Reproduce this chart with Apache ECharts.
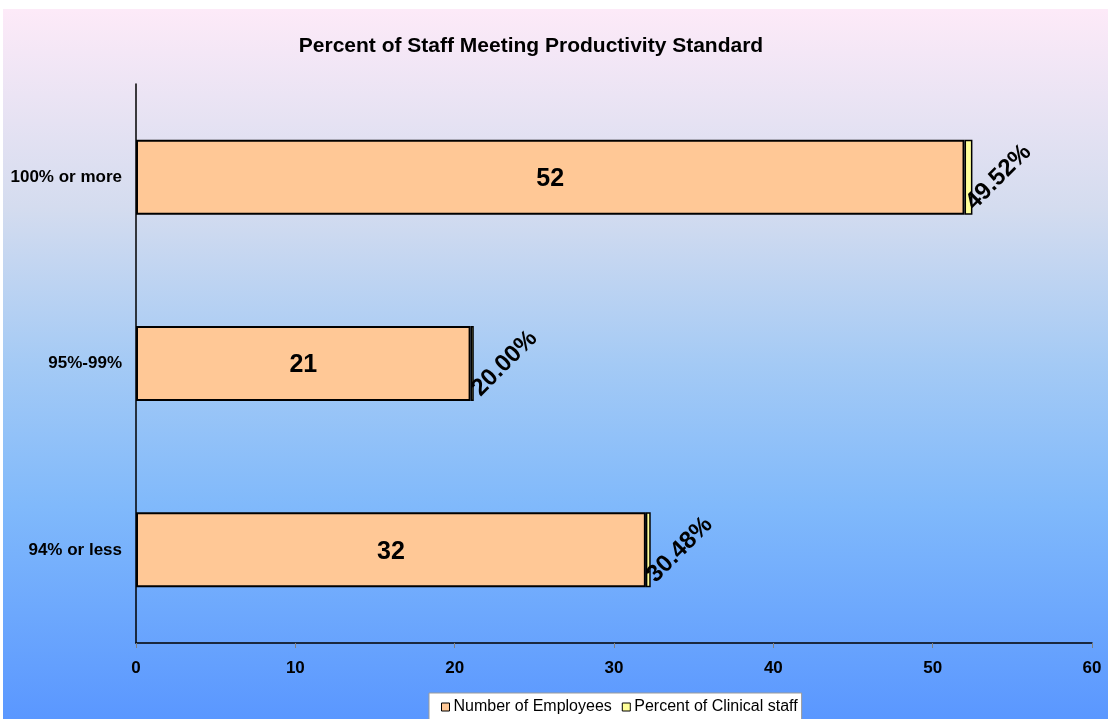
<!DOCTYPE html>
<html>
<head>
<meta charset="utf-8">
<script src="https://cdn.jsdelivr.net/npm/echarts@6/dist/echarts.min.js"></script>
<style>
html,body{margin:0;padding:0;background:#fff;}
#c{width:1108px;height:719px;}
</style>
</head>
<body>
<div id="c"></div>
<script>
const categories = ['94% or less', '95%-99%', '100% or more'];
const employees = [32, 21, 52];
const clinicalPct = [0.3048, 0.2000, 0.4952];
const xTicks = [0, 10, 20, 30, 40, 50, 60];

const FONT = '"Liberation Sans", Arial, sans-serif';
const chart = echarts.init(document.getElementById('c'));
chart.setOption({
  animation: false,
  backgroundColor: '#ffffff',
  graphic: [{
    type: 'rect', left: 3, top: 9, z: -10, silent: true,
    shape: {width: 1105, height: 710},
    style: {
      fill: new echarts.graphic.LinearGradient(0, 0, 0, 1, [
        {offset: 0, color: '#fdeaf8'},
        {offset: 0.28, color: '#d4dcef'},
        {offset: 0.5, color: '#a4caf5'},
        {offset: 0.7, color: '#80b9fb'},
        {offset: 1, color: '#5a97ff'}
      ])
    }
  }],
  title: {
    text: 'Percent of Staff Meeting Productivity Standard',
    left: 526, top: 31, textAlign: 'center',
    textStyle: {fontFamily: FONT, fontWeight: 'bold', fontSize: 21, color: '#000'}
  },
  legend: {
    left: 429, top: 693,
    backgroundColor: '#ffffff',
    borderColor: '#9a9a9a', borderWidth: 1,
    padding: [6, 4, 6, 12],
    itemWidth: 8, itemHeight: 8, itemGap: 10,
    icon: 'rect',
    itemStyle: {borderColor: '#000', borderWidth: 1},
    textStyle: {fontFamily: FONT, fontSize: 16, color: '#000', padding: [0, 0, 0, -1]},
    data: ['Number of Employees', 'Percent of Clinical staff']
  },
  grid: {left: 136, right: 16, top: 84, bottom: 76, containLabel: false},
  xAxis: {
    type: 'value', min: xTicks[0], max: xTicks[xTicks.length - 1], interval: 10,
    axisLine: {show: true, lineStyle: {color: '#000', width: 1.5}},
    axisTick: {show: true, length: 5, lineStyle: {color: '#808080'}},
    splitLine: {show: false},
    axisLabel: {fontFamily: FONT, fontWeight: 'bold', fontSize: 17, color: '#000', margin: 17}
  },
  yAxis: {
    type: 'category', data: categories,
    axisLine: {show: true, lineStyle: {color: '#000', width: 1.5}},
    axisTick: {show: false},
    axisLabel: {fontFamily: FONT, fontWeight: 'bold', fontSize: 17, color: '#000', margin: 14}
  },
  series: [
    {
      name: 'Number of Employees', type: 'bar', stack: 's', data: employees,
      barWidth: 75,
      itemStyle: {color: '#ffc896', borderColor: '#000', borderWidth: 2},
      label: {
        show: true, position: 'inside', offset: [0, 2],
        fontFamily: FONT, fontWeight: 'bold', fontSize: 25, color: '#000'
      }
    },
    {
      name: 'Percent of Clinical staff', type: 'bar', stack: 's', data: clinicalPct,
      barWidth: 75,
      itemStyle: {color: '#ffff99', borderColor: '#000', borderWidth: 1.5},
      label: {
        show: true, position: [34, '50%'], align: 'center', verticalAlign: 'middle',
        rotate: 45,
        fontFamily: FONT, fontWeight: 'bold', fontSize: 24, color: '#000',
        formatter: p => (p.value * 100).toFixed(2) + '%'
      }
    }
  ]
});
</script>
</body>
</html>
